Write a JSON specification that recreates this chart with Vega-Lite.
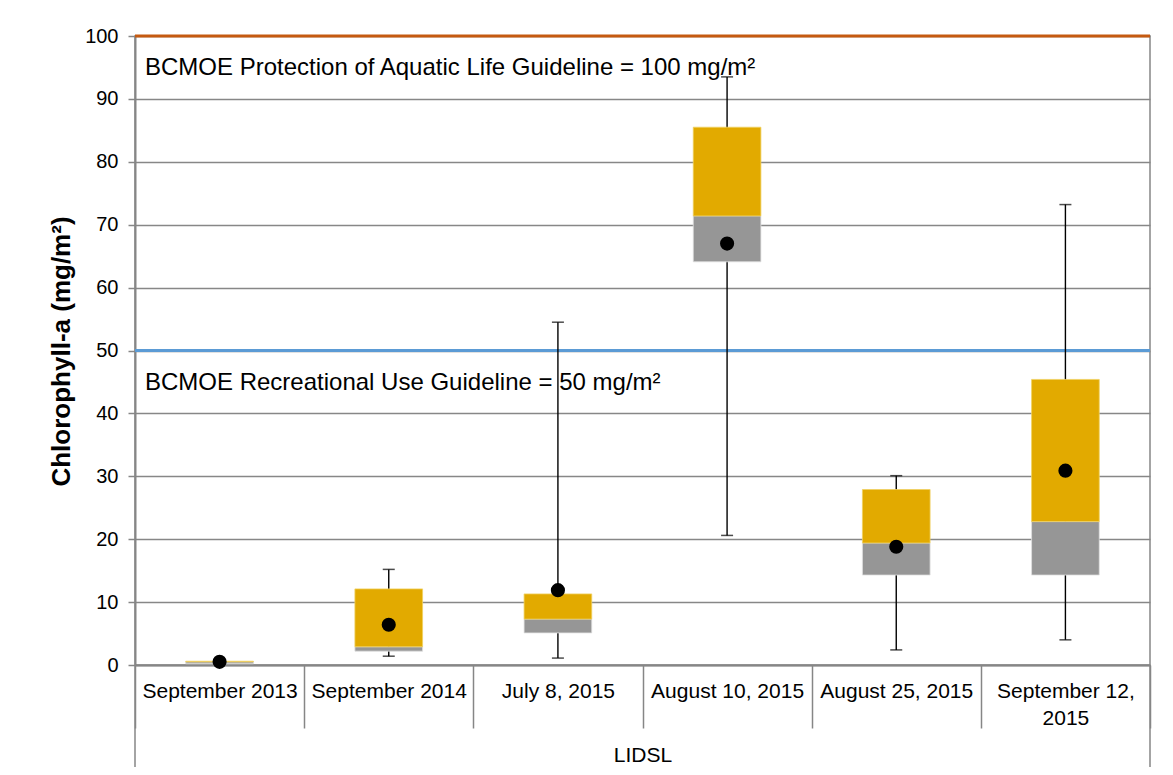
{
  "$schema": "https://vega.github.io/schema/vega-lite/v6.json",
  "width": 1015,
  "height": 629,
  "autosize": {"type": "none"},
  "padding": {"left": 135, "top": 36, "right": 23, "bottom": 110},
  "background": "white",
  "config": {
    "font": "Liberation Sans",
    "view": {"stroke": "#868686", "strokeWidth": 1.5},
    "axisY": {
      "titleFontSize": 26,
      "titleFontWeight": "bold",
      "titleColor": "black",
      "titleX": -74,
      "titleY": 315,
      "titleBaseline": "middle",
      "labelFontSize": 20,
      "labelColor": "black",
      "labelPadding": 10,
      "labelOverlap": false,
      "tickSize": 7,
      "tickColor": "#868686",
      "tickWidth": 1.5,
      "domainColor": "#868686",
      "domainWidth": 2,
      "gridColor": "#878787",
      "gridWidth": 1.3
    }
  },
  "datasets": {
    "boxes": [
      {"date": "September 2013", "min": 0.2, "q1": 0.2, "median": 0.5, "q3": 0.6, "max": 0.6, "mean": 0.5},
      {"date": "September 2014", "min": 1.4, "q1": 2.2, "median": 2.9, "q3": 12.1, "max": 15.2, "mean": 6.4},
      {"date": "July 8, 2015", "min": 1.1, "q1": 5.1, "median": 7.3, "q3": 11.3, "max": 54.5, "mean": 11.9},
      {"date": "August 10, 2015", "min": 20.6, "q1": 64.1, "median": 71.4, "q3": 85.5, "max": 93.5, "mean": 67.0},
      {"date": "August 25, 2015", "min": 2.4, "q1": 14.3, "median": 19.4, "q3": 27.9, "max": 30.1, "mean": 18.8},
      {"date": "September 12, 2015", "min": 4.0, "q1": 14.3, "median": 22.8, "q3": 45.4, "max": 73.2, "mean": 30.9}
    ],
    "guides": [
      {"guideline": 100, "name": "aquatic", "label": "BCMOE Protection of Aquatic Life Guideline = 100 mg/m²"},
      {"guideline": 50, "name": "recreational", "label": "BCMOE Recreational Use Guideline = 50 mg/m²"}
    ]
  },
  "encoding": {
    "x": {
      "field": "date",
      "type": "nominal",
      "sort": null,
      "scale": {"paddingInner": 0, "paddingOuter": 0},
      "axis": {
        "title": "LIDSL",
        "titleFontSize": 21,
        "titleFontWeight": "normal",
        "titleColor": "black",
        "titleY": 90,
        "titleBaseline": "middle",
        "labelFontSize": 21,
        "labelColor": "black",
        "labelAngle": 0,
        "labelPadding": -48,
        "labelBaseline": "top",
        "labelLineHeight": 27,
        "labelOverlap": false,
        "labelLimit": 0,
        "labelExpr": "datum.value == 'September 12, 2015' ? ['September 12,', '2015'] : datum.value",
        "tickBand": "extent",
        "tickSize": 63,
        "tickColor": "#868686",
        "tickWidth": 1.5,
        "domainColor": "#868686",
        "domainWidth": 2,
        "grid": false
      }
    }
  },
  "layer": [
    {
      "data": {"name": "guides"},
      "mark": {"type": "rule", "strokeWidth": 3},
      "encoding": {
        "x": null,
        "y": {
          "field": "guideline",
          "type": "quantitative",
          "title": "Chlorophyll-a (mg/m²)",
          "scale": {"domain": [0, 100], "nice": false},
          "axis": {"values": [0, 10, 20, 30, 40, 50, 60, 70, 80, 90, 100]}
        },
        "color": {
          "field": "name",
          "type": "nominal",
          "scale": {"domain": ["aquatic", "recreational"], "range": ["#C55A11", "#5B9BD5"]},
          "legend": null
        }
      }
    },
    {
      "data": {"name": "guides"},
      "mark": {"type": "text", "align": "left", "baseline": "middle", "dx": 10, "dy": 32, "fontSize": 24, "color": "black"},
      "encoding": {
        "x": {"datum": "September 2013", "type": "nominal", "bandPosition": 0},
        "y": {"field": "guideline", "type": "quantitative", "title": "Chlorophyll-a (mg/m²)", "axis": {"values": [0, 10, 20, 30, 40, 50, 60, 70, 80, 90, 100]}},
        "text": {"field": "label"}
      }
    },
    {
      "data": {"name": "boxes"},
      "mark": {"type": "rule", "color": "black", "strokeWidth": 1.4},
      "encoding": {
        "y": {"field": "min", "type": "quantitative", "title": "Chlorophyll-a (mg/m²)", "axis": {"values": [0, 10, 20, 30, 40, 50, 60, 70, 80, 90, 100]}},
        "y2": {"field": "max"}
      }
    },
    {
      "data": {"name": "boxes"},
      "mark": {"type": "tick", "color": "black", "size": 12, "thickness": 1.5, "orient": "horizontal"},
      "encoding": {
        "y": {"field": "min", "type": "quantitative", "title": "Chlorophyll-a (mg/m²)", "axis": {"values": [0, 10, 20, 30, 40, 50, 60, 70, 80, 90, 100]}}
      }
    },
    {
      "data": {"name": "boxes"},
      "mark": {"type": "tick", "color": "black", "size": 12, "thickness": 1.5, "orient": "horizontal"},
      "encoding": {
        "y": {"field": "max", "type": "quantitative", "title": "Chlorophyll-a (mg/m²)", "axis": {"values": [0, 10, 20, 30, 40, 50, 60, 70, 80, 90, 100]}}
      }
    },
    {
      "data": {"name": "boxes"},
      "mark": {"type": "bar", "color": "#969696", "width": {"band": 0.4}, "stroke": "#e0e0e0", "strokeWidth": 0.8},
      "encoding": {
        "y": {"field": "q1", "type": "quantitative", "title": "Chlorophyll-a (mg/m²)", "axis": {"values": [0, 10, 20, 30, 40, 50, 60, 70, 80, 90, 100]}},
        "y2": {"field": "median"}
      }
    },
    {
      "data": {"name": "boxes"},
      "mark": {"type": "bar", "color": "#E2AA00", "width": {"band": 0.4}, "stroke": "#f0d060", "strokeWidth": 0.8},
      "encoding": {
        "y": {"field": "median", "type": "quantitative", "title": "Chlorophyll-a (mg/m²)", "axis": {"values": [0, 10, 20, 30, 40, 50, 60, 70, 80, 90, 100]}},
        "y2": {"field": "q3"}
      }
    },
    {
      "data": {"name": "boxes"},
      "mark": {"type": "point", "filled": true, "color": "black", "opacity": 1, "size": 200, "shape": "circle"},
      "encoding": {
        "y": {"field": "mean", "type": "quantitative", "title": "Chlorophyll-a (mg/m²)", "axis": {"values": [0, 10, 20, 30, 40, 50, 60, 70, 80, 90, 100]}}
      }
    },
    {
      "data": {"values": [{}]},
      "mark": {"type": "rule", "color": "#868686", "strokeWidth": 1.5},
      "encoding": {
        "x": {"datum": "September 2013", "type": "nominal", "bandPosition": 0},
        "y": {"datum": 0, "type": "quantitative", "title": "Chlorophyll-a (mg/m²)", "axis": {"values": [0, 10, 20, 30, 40, 50, 60, 70, 80, 90, 100]}},
        "y2": {"datum": -16.2}
      }
    },
    {
      "data": {"values": [{}]},
      "mark": {"type": "rule", "color": "#868686", "strokeWidth": 1.5},
      "encoding": {
        "x": {"datum": "September 12, 2015", "type": "nominal", "bandPosition": 1},
        "y": {"datum": 0, "type": "quantitative", "title": "Chlorophyll-a (mg/m²)", "axis": {"values": [0, 10, 20, 30, 40, 50, 60, 70, 80, 90, 100]}},
        "y2": {"datum": -16.2}
      }
    }
  ]
}
